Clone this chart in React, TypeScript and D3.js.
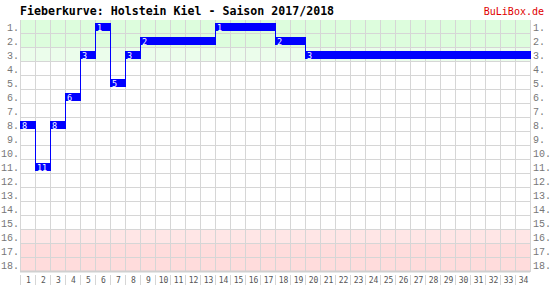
import React from "react";
import * as d3 from "d3";

const title = "Fieberkurve: Holstein Kiel - Saison 2017/2018";
const brand = "BuLiBox.de";
const matchdays = d3.range(1, 35);
const positions = [8, 11, 8, 6, 3, 1, 5, 3, 2, 2, 2, 2, 2, 1, 1, 1, 1, 2, 2, 3, 3, 3, 3, 3, 3, 3, 3, 3, 3, 3, 3, 3, 3, 3];
const ranks = d3.range(1, 19);
const rankColors: Record<number, string> = { 1: "#ddfddd", 2: "#ddfddd", 3: "#ebfdeb", 16: "#ffe6e6", 17: "#ffdcdc", 18: "#ffdcdc" };

const W = 551, H = 286;
const left = 20, right = 530, top = 20, bottom = 272;

export default function App() {
  const x = d3.scaleBand<number>().domain(matchdays).range([left, right]);
  const y = d3.scaleBand<number>().domain(ranks).range([top, bottom]);
  const bw = x.bandwidth();
  const rh = y.bandwidth();
  const cy = (r: number) => (y(r) as number) + rh / 2;

  const pathD: string[] = [];
  positions.forEach((p, i) => {
    if (i > 0) {
      const prev = positions[i - 1];
      if (prev !== p) {
        const xx = (x(matchdays[i]) as number) + 0.5;
        pathD.push(`M${xx},${cy(prev)}V${cy(p)}`);
      }
    }
  });

  return (
    <svg width={W} height={H} style={{ position: "absolute", left: 0, top: 0, background: "#fff" }}>
      <text x={20} y={15} fontFamily="DejaVu Sans Mono" fontWeight="bold" fontSize={11.6} fill="#000">{title}</text>
      <text x={544} y={15} textAnchor="end" fontFamily="DejaVu Sans Mono" fontSize={10} fill="#e00000">{brand}</text>
      {ranks.map((r) => (
        <rect key={"bg" + r} x={left} y={y(r)} width={right - left} height={rh} fill={rankColors[r] || "#ffffff"} />
      ))}
      {matchdays.map((m) => (
        <line key={"vg" + m} x1={(x(m) as number) + 0.5} x2={(x(m) as number) + 0.5} y1={top} y2={bottom} stroke="#d6d6d6" />
      ))}
      <line x1={right + 0.5} x2={right + 0.5} y1={top} y2={bottom} stroke="#d6d6d6" />
      {ranks.map((r) => (
        <line key={"hg" + r} x1={left} x2={right} y1={(y(r) as number) + rh - 0.5} y2={(y(r) as number) + rh - 0.5} stroke="#d6d6d6" />
      ))}
      <line x1={left} x2={right} y1={bottom - 0.5} y2={bottom - 0.5} stroke="#d0d0d0" strokeWidth={2} />
      {ranks.map((r) => (
        <g key={"yl" + r}>
          <text x={19} y={cy(r) + 4} textAnchor="end" fontFamily="Liberation Mono" fontSize={10} fill="#777">{r + "."}</text>
          <text x={533} y={cy(r) + 4} fontFamily="Liberation Mono" fontSize={10} fill="#777">{r + "."}</text>
        </g>
      ))}
      {matchdays.map((m) => (
        <g key={"xl" + m}>
          <line x1={(x(m) as number) + 0.5} x2={(x(m) as number) + 0.5} y1={275} y2={285} stroke="#d6d6d6" />
          <text x={(x(m) as number) + bw / 2 + 1} y={283} textAnchor="middle" fontFamily="DejaVu Sans Mono" fontSize={8} fill="#555">{m}</text>
        </g>
      ))}
      <path d={pathD.join("")} stroke="#0000ff" strokeWidth={1} fill="none" />
      {positions.map((p, i) => (
        <rect key={"b" + i} x={x(matchdays[i])} y={cy(p) - 4} width={bw + 1} height={8} fill="#0000ff" />
      ))}
      {positions.map((p, i) => (
        <text key={"bl" + i} x={(x(matchdays[i]) as number) + 2} y={cy(p) + 3.5} fontFamily="DejaVu Sans Mono" fontSize={8.5} fill="#fff">{i === 0 || positions[i - 1] !== p ? p : ""}</text>
      ))}
    </svg>
  );
}
